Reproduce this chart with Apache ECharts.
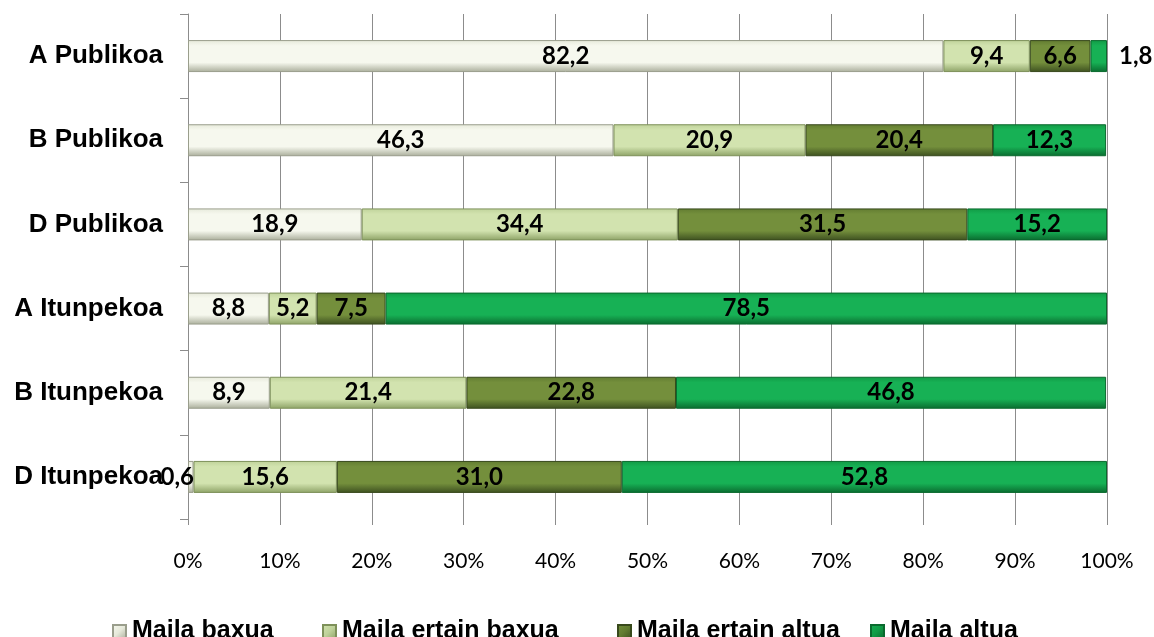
<!DOCTYPE html>
<html><head><meta charset="utf-8">
<script src="https://cdn.jsdelivr.net/npm/echarts@6/dist/echarts.min.js"></script>
<style>html,body{margin:0;padding:0;background:#fff}#c{width:1154px;height:637px}</style>
</head><body><div id="c"></div>
<script>
const categories = ['A Publikoa','B Publikoa','D Publikoa','A Itunpekoa','B Itunpekoa','D Itunpekoa'];
const seriesNames = ['Maila baxua','Maila ertain baxua','Maila ertain altua','Maila altua'];
const mailaBaxua = [82.2, 46.3, 18.9, 8.8, 8.9, 0.6];
const mailaErtainBaxua = [9.4, 20.9, 34.4, 5.2, 21.4, 15.6];
const mailaErtainAltua = [6.6, 20.4, 31.5, 7.5, 22.8, 31.0];
const mailaAltua = [1.8, 12.3, 15.2, 78.5, 46.8, 52.8];
const xTicks = ['0%','10%','20%','30%','40%','50%','60%','70%','80%','90%','100%'];

const values = [mailaBaxua, mailaErtainBaxua, mailaErtainAltua, mailaAltua];
const palettes = [
  {top:'#e6e9da', base:'#f6f8ee', bottom:'#a9ad9a', border:'#9a9e8c'},
  {top:'#bfd29a', base:'#d2e3af', bottom:'#8da266', border:'#7e915a'},
  {top:'#627c31', base:'#748f3c', bottom:'#3d5020', border:'#38491c'},
  {top:'#119a45', base:'#17b155', bottom:'#0a6b2f', border:'#0a6a2e'}
];
const legendLefts = [107, 317, 612, 865];
function grad(p){
  return {type:'linear',x:0,y:0,x2:0,y2:1,colorStops:[
    {offset:0,color:p.top},{offset:0.18,color:p.base},{offset:0.7,color:p.base},{offset:1,color:p.bottom}]};
}
function iconGrad(p){
  return {type:'linear',x:0,y:0,x2:1,y2:1,colorStops:[
    {offset:0,color:p.base},{offset:0.5,color:p.top},{offset:1,color:p.bottom}]};
}
function fmt(v){return v.toFixed(1).replace('.',',');}

const series = values.map((arr,si)=>({
  name: seriesNames[si],
  type:'bar',
  stack:'total',
  barWidth:'38%',
  itemStyle:{color:grad(palettes[si]), borderColor:palettes[si].border, borderWidth:1},
  label:{show:true, position:'inside', color:'#000', fontFamily:'Lato, "Open Sans", sans-serif', fontWeight:'bold', fontSize:24,
    formatter:p=>fmt(p.value)},
  data: arr.map((v,ci)=>{
    const d={value:v};
    if(si===3 && ci===0){ d.label={position:'right', distance:12}; }
    if(si===0 && ci===5){ d.label={position:'left', distance:-6}; }
    return d;
  })
}));

const legends = seriesNames.map((n,i)=>({
  data:[{name:n, itemStyle:{color:iconGrad(palettes[i])}}],
  top:614, left:legendLefts[i], icon:'rect', itemWidth:13, itemHeight:13,
  selectedMode:false,
  textStyle:{fontFamily:'Arial, "Liberation Sans", sans-serif', fontWeight:'bold', fontSize:25, color:'#000', padding:[0,0,0,1]}
}));

const chart = echarts.init(document.getElementById('c'));
chart.setOption({
  animation:false,
  grid:{left:188, right:47, top:14, bottom:118, containLabel:false},
  legend: legends,
  xAxis:{
    type:'value', min:0, max:100, interval:10,
    axisLine:{show:false},
    axisTick:{show:true, length:6, lineStyle:{color:'#8c8c8c'}},
    splitLine:{show:true, lineStyle:{color:'#8c8c8c', width:1}},
    axisLabel:{formatter:v=>xTicks[Math.round(v/10)], margin:32, color:'#000', fontSize:21, fontFamily:'Lato, "Open Sans", sans-serif'}
  },
  yAxis:{
    type:'category', data:categories, inverse:true,
    axisLine:{show:true, lineStyle:{color:'#8c8c8c'}},
    axisTick:{show:true, length:8, lineStyle:{color:'#8c8c8c'}},
    axisLabel:{margin:25, color:'#000', fontWeight:'bold', fontSize:26, fontFamily:'Arial, "Liberation Sans", sans-serif'}
  },
  series: series
});
</script></body></html>
